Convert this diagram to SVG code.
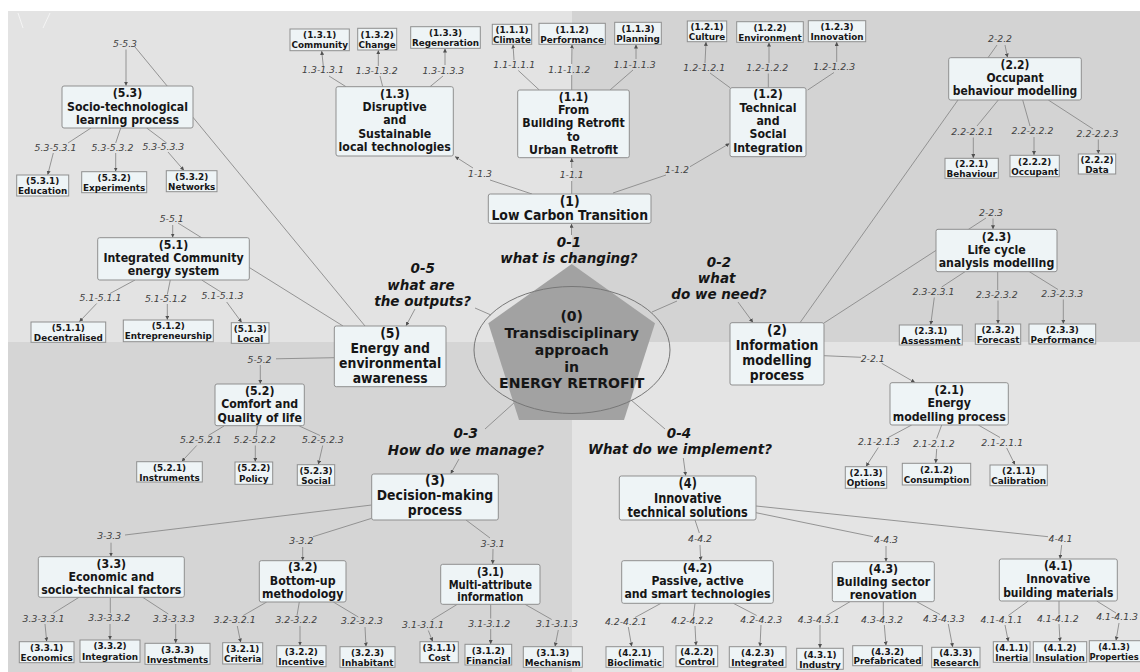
<svg xmlns="http://www.w3.org/2000/svg" width="1140" height="672" viewBox="0 0 1140 672">
<defs>
<style>
text{font-family:"DejaVu Sans",Verdana,sans-serif;text-anchor:middle;fill:#161616}
.b{fill:#eef4f6;stroke:#8f8f8f;stroke-width:1}
.n0{font-size:14.5px;font-weight:bold}
.n1{font-size:14px;font-weight:bold}
.n2{font-size:12px;font-weight:bold}
.lf{font-size:9.5px;font-weight:bold}
.el{font-size:9.3px;font-style:italic;fill:#404040}
.q{font-size:13.5px;font-weight:bold;font-style:italic}
#connectors path{fill:none;stroke:#8a8a8a;stroke-width:.9}
#connectors path.a{marker-end:url(#ah)}
</style>
<marker id="ah" viewBox="0 0 6 6" refX="6" refY="3" markerWidth="4" markerHeight="4" markerUnits="userSpaceOnUse" orient="auto"><path d="M0,0L6,3L0,6z" fill="#505050"/></marker>
</defs>
<g id="background">
<rect width="1140" height="672" fill="#ffffff"/>
<rect x="8" y="11" width="564" height="331" fill="#e3e3e3"/>
<rect x="572" y="11" width="568" height="331" fill="#d3d3d3"/>
<rect x="8" y="342" width="564" height="330" fill="#d5d5d5"/>
<rect x="572" y="342" width="568" height="330" fill="#e4e4e4"/>
<path d="M18 13L23 28M50 13L43 28" stroke="#ffffff" stroke-opacity=".6" fill="none"/>
</g>
<g id="connectors">
<path d="M571.7 265V287"/><path class="a" d="M571.5 235V223.8"/>
<path d="M652 312L677 301"/><path class="a" d="M738 302L753 322.5"/>
<path d="M515 402L485 429"/><path class="a" d="M459 459L450.7 473.8"/>
<path d="M631 400L665 429"/><path class="a" d="M683.3 458L685.7 475.8"/>
<path d="M491 315L475 308"/><path class="a" d="M415 309L406 325.8"/>
<path d="M532 194L490 180"/><path class="a" d="M473 168L455 156.5"/>
<path d="M571.7 194V181"/><path class="a" d="M571.7 168V158"/>
<path d="M613 193L666 175"/><path class="a" d="M690 166.7L729.5 143.5"/>
<path d="M800 322.7L997 45"/><path class="a" d="M1005 45L1007.5 57.5"/>
<path d="M824 323L986 218"/><path class="a" d="M993 218.5V229.2"/>
<path d="M824 355.7L861 357.3"/><path class="a" d="M881.7 363.3L915 382.5"/>
<path d="M371.7 505L125 535"/><path class="a" d="M111 542.7V556.5"/>
<path d="M371.7 518.3L313 536.7"/><path class="a" d="M302.7 547V560.5"/>
<path d="M466 520L490 538"/><path class="a" d="M493 549L492.7 564.1"/>
<path d="M695 520L699.3 533"/><path class="a" d="M700 545L700.7 560.5"/>
<path d="M756 512.7L873 536.7"/><path class="a" d="M886 546V561.5"/>
<path d="M756 506L1048 536.7"/><path class="a" d="M1061.7 545L1060 558.8"/>
<path d="M365 326L135 47"/><path class="a" d="M126 49.5V85.8"/>
<path d="M343 326L178 223"/><path class="a" d="M172.7 225V237.5"/>
<path d="M334.3 357.7L276 358.8"/><path class="a" d="M260.3 365V383.8"/>
<path d="M346 86.7L329 76"/><path class="a" d="M323.3 66L321.7 50.9"/>
<path d="M382.7 86.7L380 76"/><path class="a" d="M378.3 66V50.2"/>
<path d="M430 86.7L443 76"/><path class="a" d="M445 65V48.5"/>
<path d="M539.3 90L518.3 70.5"/><path class="a" d="M514 60L513 44.5"/>
<path d="M571.7 90V75"/><path class="a" d="M571.7 64L572 44.5"/>
<path d="M610 90L633 70"/><path class="a" d="M636 59V44.5"/>
<path d="M730 87.7L710 73"/><path class="a" d="M705 63L706 41.9"/>
<path d="M768.3 87.7V73.5"/><path class="a" d="M769 63V42.5"/>
<path d="M807.7 90L834 72.5"/><path class="a" d="M836.7 62V41.9"/>
<path d="M998.3 100L977 126"/><path class="a" d="M973.3 137.5V158.1"/>
<path d="M1022.7 100L1030 126"/><path class="a" d="M1034 137V155.1"/>
<path d="M1048.3 100L1093 129"/><path class="a" d="M1098.3 139.5V153.8"/>
<path d="M965 271.7L941.7 287"/><path class="a" d="M934.3 297.5L930.7 324.8"/>
<path d="M997.7 271.7V290"/><path class="a" d="M998 300.5V323.8"/>
<path d="M1029.3 271.7L1058 289.5"/><path class="a" d="M1063.3 299.5V323.8"/>
<path d="M911.7 425L888.3 437.5"/><path class="a" d="M878.3 447.5L866 466.5"/>
<path d="M941.7 425L936.7 438.5"/><path class="a" d="M936.7 449L935.7 463.1"/>
<path d="M978.3 425L1000 437.5"/><path class="a" d="M1006.7 448L1015 464.8"/>
<path d="M79 597.3L53.3 613.3"/><path class="a" d="M45 624L46.7 641.5"/>
<path d="M110.3 597.3V613"/><path class="a" d="M110 624V639.8"/>
<path d="M142.7 597.3L168.3 614"/><path class="a" d="M175.7 624V643.1"/>
<path d="M266.7 602L243.3 615.5"/><path class="a" d="M237.3 626L240.7 642.5"/>
<path d="M299.3 602L297 615.5"/><path class="a" d="M300 626V645.5"/>
<path d="M333.3 602L358.3 617"/><path class="a" d="M365 627L366 646.5"/>
<path d="M457.3 604.3L431.7 620"/><path class="a" d="M428.3 630.5L432.7 641.5"/>
<path d="M490.7 604.3V618.5"/><path class="a" d="M490.7 629V644.1"/>
<path d="M525 604.3L551.7 619.5"/><path class="a" d="M558.3 630L555 646.5"/>
<path d="M661 603.3L635 617.5"/><path class="a" d="M628.3 627L631.7 646.5"/>
<path d="M695 603.3L693.3 616.5"/><path class="a" d="M695 626L696 645.5"/>
<path d="M733.3 603.3L756.7 615.5"/><path class="a" d="M761 625L760 646.5"/>
<path d="M850 601.7L826.7 615.5"/><path class="a" d="M820 625V648.1"/>
<path d="M883.3 601.7V615.5"/><path class="a" d="M884.3 625L886 645.5"/>
<path d="M916.7 601.7L940 614.5"/><path class="a" d="M948.3 624L952.7 647.1"/>
<path d="M1028.3 601L1008.3 615.5"/><path class="a" d="M1005 625L1008.3 641.5"/>
<path d="M1059 601V614.5"/><path class="a" d="M1059 624L1060 641.5"/>
<path d="M1096.7 601L1116 613"/><path class="a" d="M1119 623L1116 640.5"/>
<path d="M91 128L68 143"/><path class="a" d="M53.3 153L47.7 174.8"/>
<path d="M120.7 128L115.7 143"/><path class="a" d="M115.7 153V171.5"/>
<path d="M146.7 128L166.7 143"/><path class="a" d="M168 152L184 170.5"/>
<path d="M135 280L110 293.5"/><path class="a" d="M96.7 303.5L79.3 321.8"/>
<path d="M170.3 280L167.3 294.5"/><path class="a" d="M167.3 304V319.8"/>
<path d="M201.7 280L221.7 292.5"/><path class="a" d="M226.7 302L241.7 322.5"/>
<path d="M224 426L208.3 435.5"/><path class="a" d="M196.7 445.5L181.7 461.5"/>
<path d="M257.3 426L256 435.5"/><path class="a" d="M255.3 445.5V461.8"/>
<path d="M299.3 426L320 435.5"/><path class="a" d="M322.7 445.5L318.3 464.5"/>
<text class="q" x="569" y="246.7">0-1</text><text class="q" x="569" y="263.3">what is changing?</text>
<text class="q" x="719" y="266.7">0-2</text><text class="q" x="716.7" y="283.3">what</text><text class="q" x="719" y="299.3">do we need?</text>
<text class="q" x="465.7" y="438.3">0-3</text><text class="q" x="466" y="455">How do we manage?</text>
<text class="q" x="679" y="438">0-4</text><text class="q" x="680" y="454.3">What do we implement?</text>
<text class="q" x="422.7" y="272.7">0-5</text><text class="q" x="421" y="290">what are</text><text class="q" x="422.7" y="306">the outputs?</text>
<text class="el" x="480" y="176.7">1-1.3</text>
<text class="el" x="571.7" y="178.3">1-1.1</text>
<text class="el" x="677" y="173.3">1-1.2</text>
<text class="el" x="1000" y="41.7">2-2.2</text>
<text class="el" x="991" y="215.7">2-2.3</text>
<text class="el" x="872.7" y="361.7">2-2.1</text>
<text class="el" x="109.2" y="539.3">3-3.3</text>
<text class="el" x="301.3" y="544">3-3.2</text>
<text class="el" x="492.7" y="546.7">3-3.1</text>
<text class="el" x="700" y="541.7">4-4.2</text>
<text class="el" x="886" y="543.3">4-4.3</text>
<text class="el" x="1060.5" y="541.7">4-4.1</text>
<text class="el" x="125" y="47">5-5.3</text>
<text class="el" x="171.7" y="222.3">5-5.1</text>
<text class="el" x="259.5" y="362.7">5-5.2</text>
<text class="el" x="323" y="73.3">1.3-1.3.1</text><text class="el" x="376.7" y="74">1.3-1.3.2</text><text class="el" x="443.3" y="74">1.3-1.3.3</text>
<text class="el" x="514.2" y="68.3">1.1-1.1.1</text><text class="el" x="569.2" y="72.7">1.1-1.1.2</text><text class="el" x="634.7" y="67.7">1.1-1.1.3</text>
<text class="el" x="704.2" y="71">1.2-1.2.1</text><text class="el" x="767.2" y="71">1.2-1.2.2</text><text class="el" x="834.2" y="70">1.2-1.2.3</text>
<text class="el" x="972.2" y="135">2.2-2.2.1</text><text class="el" x="1032.5" y="134.3">2.2-2.2.2</text><text class="el" x="1097.5" y="136.7">2.2-2.2.3</text>
<text class="el" x="933.5" y="295">2.3-2.3.1</text><text class="el" x="996.8" y="298.3">2.3-2.3.2</text><text class="el" x="1062.2" y="297.3">2.3-2.3.3</text>
<text class="el" x="878.8" y="445">2.1-2.1.3</text><text class="el" x="933.8" y="446.7">2.1-2.1.2</text><text class="el" x="1002.2" y="445.7">2.1-2.1.1</text>
<text class="el" x="43.5" y="621.7">3.3-3.3.1</text><text class="el" x="109.2" y="621">3.3-3.3.2</text><text class="el" x="173.8" y="621.7">3.3-3.3.3</text>
<text class="el" x="234.7" y="623.3">3.2-3.2.1</text><text class="el" x="296.3" y="623.3">3.2-3.2.2</text><text class="el" x="362" y="624.3">3.2-3.2.3</text>
<text class="el" x="423" y="628.3">3.1-3.1.1</text><text class="el" x="489.2" y="626.7">3.1-3.1.2</text><text class="el" x="557" y="627.3">3.1-3.1.3</text>
<text class="el" x="625.8" y="625">4.2-4.2.1</text><text class="el" x="692.2" y="624">4.2-4.2.2</text><text class="el" x="761.2" y="622.7">4.2-4.2.3</text>
<text class="el" x="818.7" y="622.7">4.3-4.3.1</text><text class="el" x="882" y="622.7">4.3-4.3.2</text><text class="el" x="943.8" y="621.7">4.3-4.3.3</text>
<text class="el" x="1001.5" y="622.7">4.1-4.1.1</text><text class="el" x="1057.8" y="621.7">4.1-4.1.2</text><text class="el" x="1138" y="620" style="text-anchor:end">4.1-4.1.3</text>
<text class="el" x="55.5" y="150.7">5.3-5.3.1</text><text class="el" x="112.5" y="151">5.3-5.3.2</text><text class="el" x="163.3" y="150">5.3-5.3.3</text>
<text class="el" x="100.5" y="300.7">5.1-5.1.1</text><text class="el" x="165.8" y="301.7">5.1-5.1.2</text><text class="el" x="222.5" y="299.3">5.1-5.1.3</text>
<text class="el" x="200.8" y="442.7">5.2-5.2.1</text><text class="el" x="254.7" y="442.7">5.2-5.2.2</text><text class="el" x="322.8" y="442.7">5.2-5.2.3</text>
</g>
<g id="node-0">
<polygon points="571.7,264 655,323.3 624,420 519,420 488.3,323.3" fill="#a2a2a2"/>
<ellipse cx="572" cy="350" rx="98" ry="63.5" fill="none" stroke="#777777" stroke-width="1"/>
<text class="n0" transform="matrix(.97 0 0 1 571.7 0)"><tspan x="0" y="321.5">(0)</tspan><tspan x="0" y="338.2">Transdisciplinary</tspan><tspan x="0" y="354.9">approach</tspan><tspan x="0" y="371.6">in</tspan><tspan x="0" y="388.3">ENERGY RETROFIT</tspan></text>
</g>
<g id="node-1"><rect class="b" x="488.3" y="194" width="162.7" height="29.3" rx="2"/><text class="n1" transform="matrix(.89 0 0 1 569.7 0)"><tspan x="0" y="206">(1)</tspan><tspan x="0" y="220.5">Low Carbon Transition</tspan></text></g>
<g id="node-2"><rect class="b" x="730" y="322.7" width="94" height="62.3" rx="2"/><text class="n1" transform="matrix(.89 0 0 1 777 0)"><tspan x="0" y="335">(2)</tspan><tspan x="0" y="350">Information</tspan><tspan x="0" y="365">modelling</tspan><tspan x="0" y="380">process</tspan></text></g>
<g id="node-3"><rect class="b" x="371.7" y="474" width="126.6" height="46" rx="2"/><text class="n1" transform="matrix(.89 0 0 1 435 0)"><tspan x="0" y="485.5">(3)</tspan><tspan x="0" y="500.5">Decision-making</tspan><tspan x="0" y="515.5">process</tspan></text></g>
<g id="node-4"><rect class="b" x="619.3" y="476" width="136.7" height="44" rx="2"/><text class="n1" transform="matrix(.81 0 0 1 687.7 0)"><tspan x="0" y="487.7">(4)</tspan><tspan x="0" y="502.7">Innovative</tspan><tspan x="0" y="517.3">technical solutions</tspan></text></g>
<g id="node-5"><rect class="b" x="334.3" y="326" width="111.7" height="60.7" rx="2"/><text class="n1" transform="matrix(.89 0 0 1 390.2 0)"><tspan x="0" y="338.3">(5)</tspan><tspan x="0" y="353.3">Energy and</tspan><tspan x="0" y="368.3">environmental</tspan><tspan x="0" y="383.3">awareness</tspan></text></g>
<g id="node-1.1"><rect class="b" x="517.7" y="90" width="111.6" height="67.7" rx="2"/><text class="n2" transform="matrix(.917 0 0 1 573.5 0)"><tspan x="0" y="100.7">(1.1)</tspan><tspan x="0" y="114">From</tspan><tspan x="0" y="127.5">Building Retrofit</tspan><tspan x="0" y="141">to</tspan><tspan x="0" y="154.3">Urban Retrofit</tspan></text></g>
<g id="node-1.2"><rect class="b" x="730" y="87.7" width="76" height="69" rx="2"/><text class="n2" transform="matrix(.917 0 0 1 768 0)"><tspan x="0" y="98.3">(1.2)</tspan><tspan x="0" y="111.7">Technical</tspan><tspan x="0" y="125">and</tspan><tspan x="0" y="138.3">Social</tspan><tspan x="0" y="151.7">Integration</tspan></text></g>
<g id="node-1.3"><rect class="b" x="336" y="86.7" width="117.3" height="69.3" rx="2"/><text class="n2" transform="matrix(.917 0 0 1 394.7 0)"><tspan x="0" y="98.3">(1.3)</tspan><tspan x="0" y="111.5">Disruptive</tspan><tspan x="0" y="124.5">and</tspan><tspan x="0" y="137.7">Sustainable</tspan><tspan x="0" y="151">local technologies</tspan></text></g>
<g id="node-2.1"><rect class="b" x="890" y="382.7" width="118.3" height="42.3" rx="2"/><text class="n2" transform="matrix(.917 0 0 1 949.2 0)"><tspan x="0" y="394.3">(2.1)</tspan><tspan x="0" y="407.3">Energy</tspan><tspan x="0" y="420.7">modelling process</tspan></text></g>
<g id="node-2.2"><rect class="b" x="948.7" y="57.7" width="132.6" height="42.3" rx="2"/><text class="n2" transform="matrix(.896 0 0 1 1015 0)"><tspan x="0" y="68.8">(2.2)</tspan><tspan x="0" y="82">Occupant</tspan><tspan x="0" y="95.3">behaviour modelling</tspan></text></g>
<g id="node-2.3"><rect class="b" x="936" y="229.3" width="121" height="42.4" rx="2"/><text class="n2" transform="matrix(.917 0 0 1 996.5 0)"><tspan x="0" y="240.7">(2.3)</tspan><tspan x="0" y="254">Life cycle</tspan><tspan x="0" y="267.3">analysis modelling</tspan></text></g>
<g id="node-3.1"><rect class="b" x="440.7" y="564.3" width="99.3" height="40" rx="2"/><text class="n2" transform="matrix(.833 0 0 1 490.3 0)"><tspan x="0" y="575.7">(3.1)</tspan><tspan x="0" y="588.6">Multi-attribute</tspan><tspan x="0" y="601.5">information</tspan></text></g>
<g id="node-3.2"><rect class="b" x="259.3" y="560.7" width="86.7" height="41.3" rx="2"/><text class="n2" transform="matrix(.917 0 0 1 302.7 0)"><tspan x="0" y="571.5">(3.2)</tspan><tspan x="0" y="584.6">Bottom-up</tspan><tspan x="0" y="597.7">methodology</tspan></text></g>
<g id="node-3.3"><rect class="b" x="38.3" y="556.7" width="146" height="40.6" rx="2"/><text class="n2" transform="matrix(.917 0 0 1 111.3 0)"><tspan x="0" y="567.8">(3.3)</tspan><tspan x="0" y="581">Economic and</tspan><tspan x="0" y="594.3">socio-technical factors</tspan></text></g>
<g id="node-4.1"><rect class="b" x="999.3" y="559" width="118" height="42" rx="2"/><text class="n2" transform="matrix(.896 0 0 1 1058.3 0)"><tspan x="0" y="570">(4.1)</tspan><tspan x="0" y="583.3">Innovative</tspan><tspan x="0" y="596.7">building materials</tspan></text></g>
<g id="node-4.2"><rect class="b" x="621.7" y="560.7" width="151.6" height="42.6" rx="2"/><text class="n2" transform="matrix(.917 0 0 1 697.5 0)"><tspan x="0" y="571.9">(4.2)</tspan><tspan x="0" y="585.1">Passive, active</tspan><tspan x="0" y="598.3">and smart technologies</tspan></text></g>
<g id="node-4.3"><rect class="b" x="832.3" y="561.7" width="102" height="40" rx="2"/><text class="n2" transform="matrix(.917 0 0 1 883.3 0)"><tspan x="0" y="572.9">(4.3)</tspan><tspan x="0" y="586.1">Building sector</tspan><tspan x="0" y="599.3">renovation</tspan></text></g>
<g id="node-5.1"><rect class="b" x="97.7" y="237.7" width="151.6" height="42.3" rx="2"/><text class="n2" transform="matrix(.917 0 0 1 173.5 0)"><tspan x="0" y="249.3">(5.1)</tspan><tspan x="0" y="262.5">Integrated Community</tspan><tspan x="0" y="275.5">energy system</tspan></text></g>
<g id="node-5.2"><rect class="b" x="215" y="384" width="89.3" height="41.7" rx="2"/><text class="n2" transform="matrix(.917 0 0 1 259.7 0)"><tspan x="0" y="395.3">(5.2)</tspan><tspan x="0" y="408.5">Comfort and</tspan><tspan x="0" y="421.7">Quality of life</tspan></text></g>
<g id="node-5.3"><rect class="b" x="62" y="86" width="131" height="42" rx="2"/><text class="n2" transform="matrix(.917 0 0 1 127.5 0)"><tspan x="0" y="97.5">(5.3)</tspan><tspan x="0" y="110.7">Socio-technological</tspan><tspan x="0" y="123.6">learning process</tspan></text></g>
<g id="node-1.3.1"><rect class="b" x="290" y="29" width="59.3" height="21.7"/><text class="lf" transform="matrix(.93 0 0 1 319.7 0)"><tspan x="0" y="38.3">(1.3.1)</tspan><tspan x="0" y="48.3">Community</tspan></text></g>
<g id="node-1.3.2"><rect class="b" x="357.7" y="28.3" width="39" height="21.7"/><text class="lf" transform="matrix(.93 0 0 1 377.2 0)"><tspan x="0" y="37.6">(1.3.2)</tspan><tspan x="0" y="47.6">Change</tspan></text></g>
<g id="node-1.3.3"><rect class="b" x="410.7" y="26.7" width="69.6" height="21.6"/><text class="lf" transform="matrix(.93 0 0 1 445.5 0)"><tspan x="0" y="36">(1.3.3)</tspan><tspan x="0" y="46">Regeneration</tspan></text></g>
<g id="node-1.1.1"><rect class="b" x="492.3" y="24.3" width="39.4" height="20"/><text class="lf" transform="matrix(.93 0 0 1 512 0)"><tspan x="0" y="33.3">(1.1.1)</tspan><tspan x="0" y="43">Climate</tspan></text></g>
<g id="node-1.1.2"><rect class="b" x="539" y="23.3" width="66.3" height="21"/><text class="lf" transform="matrix(.93 0 0 1 572.2 0)"><tspan x="0" y="32.6">(1.1.2)</tspan><tspan x="0" y="42.6">Performance</tspan></text></g>
<g id="node-1.1.3"><rect class="b" x="614.7" y="22.3" width="46.6" height="22"/><text class="lf" transform="matrix(.93 0 0 1 638 0)"><tspan x="0" y="31.6">(1.1.3)</tspan><tspan x="0" y="41.6">Planning</tspan></text></g>
<g id="node-1.2.1"><rect class="b" x="687.3" y="21" width="39.4" height="20.7"/><text class="lf" transform="matrix(.93 0 0 1 707 0)"><tspan x="0" y="30.3">(1.2.1)</tspan><tspan x="0" y="40.3">Culture</tspan></text></g>
<g id="node-1.2.2"><rect class="b" x="736.7" y="21.7" width="66.6" height="20.6"/><text class="lf" transform="matrix(.93 0 0 1 770 0)"><tspan x="0" y="31">(1.2.2)</tspan><tspan x="0" y="41">Environment</tspan></text></g>
<g id="node-1.2.3"><rect class="b" x="808.3" y="20.7" width="57.4" height="21"/><text class="lf" transform="matrix(.93 0 0 1 837 0)"><tspan x="0" y="30">(1.2.3)</tspan><tspan x="0" y="40">Innovation</tspan></text></g>
<g id="node-2.2.1"><rect class="b" x="945" y="158.3" width="53.3" height="20"/><text class="lf" transform="matrix(.93 0 0 1 971.7 0)"><tspan x="0" y="167.3">(2.2.1)</tspan><tspan x="0" y="177">Behaviour</tspan></text></g>
<g id="node-2.2.2"><rect class="b" x="1010" y="155.3" width="49.3" height="21.4"/><text class="lf" transform="matrix(.93 0 0 1 1034.7 0)"><tspan x="0" y="164.6">(2.2.2)</tspan><tspan x="0" y="174.6">Occupant</tspan></text></g>
<g id="node-2.2.3"><rect class="b" x="1078.3" y="154" width="37.4" height="20"/><text class="lf" transform="matrix(.93 0 0 1 1097 0)"><tspan x="0" y="163">(2.2.2)</tspan><tspan x="0" y="172.7">Data</tspan></text></g>
<g id="node-2.3.1"><rect class="b" x="899.3" y="325" width="63" height="20"/><text class="lf" transform="matrix(.93 0 0 1 930.8 0)"><tspan x="0" y="334">(2.3.1)</tspan><tspan x="0" y="343.7">Assessment</tspan></text></g>
<g id="node-2.3.2"><rect class="b" x="975.3" y="324" width="45.4" height="20.3"/><text class="lf" transform="matrix(.93 0 0 1 998 0)"><tspan x="0" y="333">(2.3.2)</tspan><tspan x="0" y="342.8">Forecast</tspan></text></g>
<g id="node-2.3.3"><rect class="b" x="1029" y="324" width="66.7" height="20"/><text class="lf" transform="matrix(.93 0 0 1 1062.3 0)"><tspan x="0" y="333">(2.3.3)</tspan><tspan x="0" y="342.7">Performance</tspan></text></g>
<g id="node-2.1.3"><rect class="b" x="845.3" y="466.7" width="41.4" height="21.6"/><text class="lf" transform="matrix(.93 0 0 1 866 0)"><tspan x="0" y="476">(2.1.3)</tspan><tspan x="0" y="486">Options</tspan></text></g>
<g id="node-2.1.2"><rect class="b" x="902.3" y="463.3" width="68.4" height="21.7"/><text class="lf" transform="matrix(.93 0 0 1 936.5 0)"><tspan x="0" y="472.6">(2.1.2)</tspan><tspan x="0" y="482.6">Consumption</tspan></text></g>
<g id="node-2.1.1"><rect class="b" x="990" y="465" width="57.3" height="20.7"/><text class="lf" transform="matrix(.93 0 0 1 1018.7 0)"><tspan x="0" y="474.3">(2.1.1)</tspan><tspan x="0" y="484.3">Calibration</tspan></text></g>
<g id="node-3.3.1"><rect class="b" x="19.3" y="641.7" width="54.7" height="21"/><text class="lf" transform="matrix(.93 0 0 1 46.7 0)"><tspan x="0" y="651">(3.3.1)</tspan><tspan x="0" y="661">Economics</tspan></text></g>
<g id="node-3.3.2"><rect class="b" x="80" y="640" width="60" height="22.3"/><text class="lf" transform="matrix(.93 0 0 1 110 0)"><tspan x="0" y="649.3">(3.3.2)</tspan><tspan x="0" y="659.6">Integration</tspan></text></g>
<g id="node-3.3.3"><rect class="b" x="145" y="643.3" width="65" height="21"/><text class="lf" transform="matrix(.93 0 0 1 177.5 0)"><tspan x="0" y="652.6">(3.3.3)</tspan><tspan x="0" y="662.6">Investments</tspan></text></g>
<g id="node-3.2.1"><rect class="b" x="222.7" y="642.7" width="40" height="21.3"/><text class="lf" transform="matrix(.93 0 0 1 242.7 0)"><tspan x="0" y="652">(3.2.1)</tspan><tspan x="0" y="662">Criteria</tspan></text></g>
<g id="node-3.2.2"><rect class="b" x="276.7" y="645.7" width="49.3" height="21"/><text class="lf" transform="matrix(.93 0 0 1 301.3 0)"><tspan x="0" y="655">(3.2.2)</tspan><tspan x="0" y="665">Incentive</tspan></text></g>
<g id="node-3.2.3"><rect class="b" x="340" y="646.7" width="55" height="20.6"/><text class="lf" transform="matrix(.93 0 0 1 367.5 0)"><tspan x="0" y="656">(3.2.3)</tspan><tspan x="0" y="666">Inhabitant</tspan></text></g>
<g id="node-3.1.1"><rect class="b" x="420" y="641.7" width="38.3" height="21"/><text class="lf" transform="matrix(.93 0 0 1 439.2 0)"><tspan x="0" y="651">(3.1.1)</tspan><tspan x="0" y="661">Cost</tspan></text></g>
<g id="node-3.1.2"><rect class="b" x="465" y="644.3" width="46.7" height="20.7"/><text class="lf" transform="matrix(.93 0 0 1 488.3 0)"><tspan x="0" y="653.6">(3.1.2)</tspan><tspan x="0" y="663.6">Financial</tspan></text></g>
<g id="node-3.1.3"><rect class="b" x="523.3" y="646.7" width="59" height="20.6"/><text class="lf" transform="matrix(.93 0 0 1 552.8 0)"><tspan x="0" y="656">(3.1.3)</tspan><tspan x="0" y="666">Mechanism</tspan></text></g>
<g id="node-4.2.1"><rect class="b" x="606" y="646.7" width="57.3" height="20.6"/><text class="lf" transform="matrix(.93 0 0 1 634.7 0)"><tspan x="0" y="656">(4.2.1)</tspan><tspan x="0" y="666">Bioclimatic</tspan></text></g>
<g id="node-4.2.2"><rect class="b" x="676" y="645.7" width="41.7" height="21"/><text class="lf" transform="matrix(.93 0 0 1 696.8 0)"><tspan x="0" y="655">(4.2.2)</tspan><tspan x="0" y="665">Control</tspan></text></g>
<g id="node-4.2.3"><rect class="b" x="729.3" y="646.7" width="56.7" height="20.6"/><text class="lf" transform="matrix(.93 0 0 1 757.7 0)"><tspan x="0" y="656">(4.2.3)</tspan><tspan x="0" y="666">Integrated</tspan></text></g>
<g id="node-4.3.1"><rect class="b" x="796.7" y="648.3" width="46.6" height="21"/><text class="lf" transform="matrix(.93 0 0 1 820 0)"><tspan x="0" y="657.6">(4.3.1)</tspan><tspan x="0" y="667.6">Industry</tspan></text></g>
<g id="node-4.3.2"><rect class="b" x="852.7" y="645.7" width="69.6" height="20"/><text class="lf" transform="matrix(.93 0 0 1 887.5 0)"><tspan x="0" y="654.7">(4.3.2)</tspan><tspan x="0" y="664.4">Prefabricated</tspan></text></g>
<g id="node-4.3.3"><rect class="b" x="931.7" y="647.3" width="48.3" height="20.4"/><text class="lf" transform="matrix(.93 0 0 1 955.8 0)"><tspan x="0" y="656.5">(4.3.3)</tspan><tspan x="0" y="666.3">Research</tspan></text></g>
<g id="node-4.1.1"><rect class="b" x="993.3" y="641.7" width="36.7" height="20.6"/><text class="lf" transform="matrix(.93 0 0 1 1011.7 0)"><tspan x="0" y="651">(4.1.1)</tspan><tspan x="0" y="661">Inertia</tspan></text></g>
<g id="node-4.1.2"><rect class="b" x="1033.3" y="641.7" width="53.4" height="20.6"/><text class="lf" transform="matrix(.93 0 0 1 1060 0)"><tspan x="0" y="651">(4.1.2)</tspan><tspan x="0" y="661">Insulation</tspan></text></g>
<g id="node-4.1.3"><rect class="b" x="1089.3" y="640.7" width="52" height="21"/><text class="lf" transform="matrix(.88 0 0 1 1114 0)"><tspan x="0" y="650">(4.1.3)</tspan><tspan x="0" y="660">Properties</tspan></text></g>
<g id="node-5.3.1"><rect class="b" x="16.7" y="175" width="52" height="21"/><text class="lf" transform="matrix(.93 0 0 1 42.7 0)"><tspan x="0" y="184.3">(5.3.1)</tspan><tspan x="0" y="194.3">Education</tspan></text></g>
<g id="node-5.3.2"><rect class="b" x="81.7" y="171.7" width="65" height="21"/><text class="lf" transform="matrix(.93 0 0 1 114.2 0)"><tspan x="0" y="181">(5.3.2)</tspan><tspan x="0" y="191">Experiments</tspan></text></g>
<g id="node-5.3.3"><rect class="b" x="166.3" y="170.7" width="50.7" height="21"/><text class="lf" transform="matrix(.93 0 0 1 191.7 0)"><tspan x="0" y="180">(5.3.2)</tspan><tspan x="0" y="190">Networks</tspan></text></g>
<g id="node-5.1.1"><rect class="b" x="31" y="322" width="74.7" height="20.3"/><text class="lf" transform="matrix(.93 0 0 1 68.3 0)"><tspan x="0" y="331.2">(5.1.1)</tspan><tspan x="0" y="341">Decentralised</tspan></text></g>
<g id="node-5.1.2"><rect class="b" x="123.3" y="320" width="90" height="21.7"/><text class="lf" transform="matrix(.93 0 0 1 168.3 0)"><tspan x="0" y="329.3">(5.1.2)</tspan><tspan x="0" y="339.3">Entrepreneurship</tspan></text></g>
<g id="node-5.1.3"><rect class="b" x="231.3" y="322.7" width="37.7" height="20.6"/><text class="lf" transform="matrix(.93 0 0 1 250.3 0)"><tspan x="0" y="332">(5.1.3)</tspan><tspan x="0" y="342">Local</tspan></text></g>
<g id="node-5.2.1"><rect class="b" x="136.7" y="461.7" width="65.6" height="20.3"/><text class="lf" transform="matrix(.93 0 0 1 169.5 0)"><tspan x="0" y="470.9">(5.2.1)</tspan><tspan x="0" y="480.7">Instruments</tspan></text></g>
<g id="node-5.2.2"><rect class="b" x="235" y="462" width="37.7" height="22.3"/><text class="lf" transform="matrix(.93 0 0 1 253.8 0)"><tspan x="0" y="471.3">(5.2.2)</tspan><tspan x="0" y="481.6">Policy</tspan></text></g>
<g id="node-5.2.3"><rect class="b" x="297.3" y="464.7" width="37.4" height="20.6"/><text class="lf" transform="matrix(.93 0 0 1 316 0)"><tspan x="0" y="474">(5.2.3)</tspan><tspan x="0" y="484">Social</tspan></text></g>
</svg>
